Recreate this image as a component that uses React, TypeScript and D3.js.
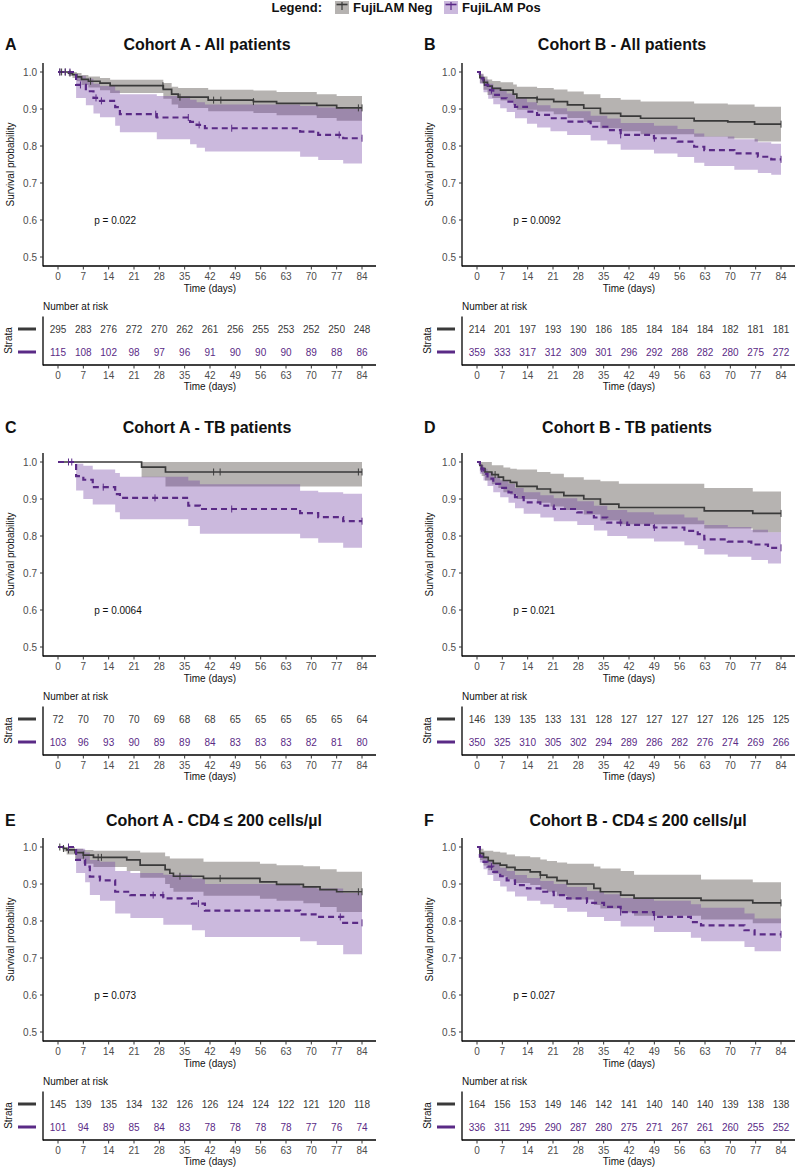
import React from "react";
import * as d3 from "d3";

type Step = [number, number, number, number]; // [day, survival, lower CI, upper CI]

const DAY_TICKS = [0, 7, 14, 21, 28, 35, 42, 49, 56, 63, 70, 77, 84];
const SURV_TICKS = [0.5, 0.6, 0.7, 0.8, 0.9, 1.0];
const GROUPS = ["FujiLAM Neg", "FujiLAM Pos"];
const PANEL_LETTERS = ["A", "B", "C", "D", "E", "F"];
const TITLES = [
  "Cohort A - All patients",
  "Cohort B - All patients",
  "Cohort A - TB patients",
  "Cohort B - TB patients",
  "Cohort A - CD4 \u2264 200 cells/\u00b5l",
  "Cohort B - CD4 \u2264 200 cells/\u00b5l",
];
const P_VALUES = ["0.022", "0.0092", "0.0064", "0.021", "0.073", "0.027"];

// ---------- Panel A ----------
const A_NEG: Step[] = [
  [0, 1, 1, 1], [2.9, 0.997, 0.99, 1], [4.0, 0.993, 0.984, 1], [5.2, 0.987, 0.975, 0.997],
  [6.5, 0.98, 0.965, 0.992], [8.4, 0.975, 0.958, 0.988], [11.6, 0.97, 0.951, 0.984],
  [14.4, 0.963, 0.943, 0.979], [29.1, 0.953, 0.928, 0.97], [31.4, 0.94, 0.912, 0.96],
  [33.2, 0.932, 0.903, 0.957], [41.5, 0.924, 0.894, 0.952], [54, 0.92, 0.889, 0.95],
  [60.4, 0.915, 0.883, 0.946], [71.5, 0.91, 0.876, 0.94], [77, 0.903, 0.868, 0.935],
];
const A_POS: Step[] = [
  [0, 1, 1, 1], [5.0, 0.965, 0.93, 0.99], [7.7, 0.948, 0.91, 0.982], [9.8, 0.93, 0.888, 0.968],
  [11.6, 0.922, 0.878, 0.962], [15.8, 0.905, 0.855, 0.95], [17.1, 0.886, 0.837, 0.94],
  [27.3, 0.877, 0.818, 0.935], [36.5, 0.865, 0.805, 0.925], [38.3, 0.857, 0.795, 0.918],
  [40.6, 0.848, 0.785, 0.912], [66.9, 0.839, 0.771, 0.908], [71.9, 0.83, 0.762, 0.904],
  [78.8, 0.821, 0.753, 0.9],
];
const A_NEG_CENSOR = [0.5, 1, 2, 3.3, 9, 29, 33.7, 43, 45, 54, 83, 84];
const A_POS_CENSOR = [0.5, 2, 3.3, 6.2, 10.5, 12, 27, 36, 39, 48, 77.7, 84];
const A_NEG_RISK = [295, 283, 276, 272, 270, 262, 261, 256, 255, 253, 252, 250, 248];
const A_POS_RISK = [115, 108, 102, 98, 97, 96, 91, 90, 90, 90, 89, 88, 86];

// ---------- Panel B ----------
const B_NEG: Step[] = [
  [0, 1, 1, 1], [0.8, 0.985, 0.97, 0.995], [1.8, 0.972, 0.952, 0.988], [2.9, 0.962, 0.938, 0.98],
  [4.2, 0.956, 0.93, 0.976], [6.5, 0.951, 0.923, 0.972], [10, 0.94, 0.91, 0.966],
  [11, 0.93, 0.898, 0.96], [16.6, 0.926, 0.893, 0.957], [21.2, 0.92, 0.886, 0.953],
  [25, 0.911, 0.876, 0.947], [29.5, 0.902, 0.865, 0.94], [34.1, 0.888, 0.848, 0.93],
  [39.7, 0.881, 0.84, 0.925], [45.2, 0.875, 0.832, 0.92], [60, 0.868, 0.825, 0.915],
  [69.3, 0.865, 0.82, 0.912], [76.7, 0.859, 0.812, 0.906],
];
const B_POS: Step[] = [
  [0, 1, 1, 1], [0.8, 0.983, 0.968, 0.993], [1.8, 0.965, 0.945, 0.98], [3.1, 0.951, 0.928, 0.968],
  [4.5, 0.938, 0.913, 0.958], [6.4, 0.929, 0.902, 0.95], [8.2, 0.92, 0.892, 0.942],
  [10.5, 0.906, 0.875, 0.93], [13.8, 0.893, 0.86, 0.918], [16.6, 0.884, 0.85, 0.91],
  [20.3, 0.875, 0.84, 0.902], [24.9, 0.866, 0.83, 0.894], [31.4, 0.852, 0.815, 0.882],
  [36, 0.843, 0.805, 0.874], [39.7, 0.83, 0.79, 0.862], [48.9, 0.821, 0.78, 0.855],
  [55.4, 0.812, 0.77, 0.846], [60, 0.798, 0.755, 0.834], [62.8, 0.789, 0.746, 0.826],
  [71.1, 0.78, 0.736, 0.818], [77.6, 0.771, 0.727, 0.81], [81.3, 0.764, 0.722, 0.806],
];
const B_NEG_CENSOR = [2, 16.6, 84];
const B_POS_CENSOR = [4, 39.7, 49, 84];
const B_NEG_RISK = [214, 201, 197, 193, 190, 186, 185, 184, 184, 184, 182, 181, 181];
const B_POS_RISK = [359, 333, 317, 312, 309, 301, 296, 292, 288, 282, 280, 275, 272];

// ---------- Panel C ----------
const C_NEG: Step[] = [
  [0, 1, 1, 1], [23.1, 0.986, 0.959, 1], [29.7, 0.973, 0.934, 1],
];
const C_POS: Step[] = [
  [0, 1, 1, 1], [5, 0.962, 0.923, 0.995], [7, 0.952, 0.9, 0.99], [9.6, 0.932, 0.885, 0.98],
  [15.8, 0.913, 0.864, 0.97], [17.1, 0.903, 0.845, 0.96], [36, 0.882, 0.827, 0.95],
  [39.2, 0.873, 0.806, 0.94], [66.9, 0.862, 0.794, 0.922], [71.9, 0.851, 0.782, 0.918],
  [78.8, 0.84, 0.768, 0.914],
];
const C_NEG_CENSOR = [43, 44.8, 83, 84];
const C_POS_CENSOR = [2.9, 3.8, 12.5, 26.8, 48, 84];
const C_NEG_RISK = [72, 70, 70, 70, 69, 68, 68, 65, 65, 65, 65, 65, 64];
const C_POS_RISK = [103, 96, 93, 90, 89, 89, 84, 83, 83, 83, 82, 81, 80];

// ---------- Panel D ----------
const D_NEG: Step[] = [
  [0, 1, 1, 1], [0.8, 0.991, 0.975, 1], [1.3, 0.982, 0.962, 1], [2.2, 0.973, 0.95, 1],
  [4.1, 0.966, 0.94, 0.991], [5.9, 0.959, 0.93, 0.991], [7.3, 0.95, 0.918, 0.985],
  [9.2, 0.945, 0.912, 0.982], [11, 0.934, 0.9, 0.98], [16.6, 0.927, 0.89, 0.973],
  [20.3, 0.918, 0.88, 0.968], [24, 0.909, 0.87, 0.959], [29.5, 0.9, 0.858, 0.952],
  [34.1, 0.886, 0.842, 0.948], [39.2, 0.877, 0.832, 0.941], [62.8, 0.868, 0.82, 0.93],
  [76.2, 0.861, 0.81, 0.92],
];
const D_POS: Step[] = [
  [0, 1, 1, 1], [0.8, 0.982, 0.968, 0.992], [1.8, 0.968, 0.95, 0.982], [2.9, 0.955, 0.935, 0.972],
  [4.5, 0.941, 0.918, 0.96], [6.4, 0.93, 0.905, 0.951], [8.7, 0.918, 0.89, 0.941],
  [10.5, 0.905, 0.875, 0.93], [12.9, 0.891, 0.86, 0.918], [17.5, 0.882, 0.85, 0.91],
  [21.2, 0.873, 0.84, 0.902], [27.7, 0.864, 0.83, 0.894], [32.3, 0.85, 0.815, 0.882],
  [36, 0.836, 0.8, 0.87], [41.5, 0.83, 0.793, 0.864], [48.9, 0.823, 0.785, 0.858],
  [57.3, 0.814, 0.775, 0.85], [61, 0.805, 0.765, 0.842], [62.8, 0.791, 0.75, 0.83],
  [69.3, 0.785, 0.744, 0.824], [75.8, 0.777, 0.735, 0.817], [80.4, 0.768, 0.726, 0.81],
];
const D_NEG_CENSOR = [5, 84];
const D_POS_CENSOR = [1.3, 39.7, 49, 84];
const D_NEG_RISK = [146, 139, 135, 133, 131, 128, 127, 127, 127, 127, 126, 125, 125];
const D_POS_RISK = [350, 325, 310, 305, 302, 294, 289, 286, 282, 276, 274, 269, 266];

// ---------- Panel E ----------
const E_NEG: Step[] = [
  [0, 1, 1, 1], [1.5, 0.996, 0.988, 1], [2.4, 0.992, 0.98, 1], [4.7, 0.985, 0.967, 0.995],
  [7, 0.978, 0.955, 0.992], [9.8, 0.972, 0.946, 0.99], [19, 0.965, 0.935, 0.99],
  [22.7, 0.951, 0.917, 0.985], [29.6, 0.939, 0.9, 0.975], [30.9, 0.929, 0.889, 0.969],
  [31.9, 0.921, 0.879, 0.969], [40.2, 0.915, 0.868, 0.96], [55.8, 0.906, 0.86, 0.955],
  [60.4, 0.899, 0.855, 0.951], [67.8, 0.892, 0.848, 0.948], [72.4, 0.885, 0.838, 0.94],
  [77, 0.879, 0.824, 0.933],
];
const E_POS: Step[] = [
  [0, 1, 1, 1], [5, 0.965, 0.93, 0.995], [7.5, 0.947, 0.905, 0.985], [8.8, 0.92, 0.87, 0.965],
  [11.6, 0.91, 0.855, 0.96], [15.8, 0.879, 0.82, 0.935], [20, 0.87, 0.808, 0.93],
  [29.1, 0.861, 0.79, 0.925], [37, 0.847, 0.775, 0.915], [40.6, 0.828, 0.757, 0.9],
  [66.9, 0.818, 0.745, 0.893], [71.5, 0.811, 0.735, 0.888], [78.8, 0.795, 0.71, 0.876],
];
const E_NEG_CENSOR = [0.5, 1.5, 2.9, 7, 11.1, 12, 33.7, 44.8, 83, 84];
const E_POS_CENSOR = [2.9, 26.3, 29, 38.8, 78, 84];
const E_NEG_RISK = [145, 139, 135, 134, 132, 126, 126, 124, 124, 122, 121, 120, 118];
const E_POS_RISK = [101, 94, 89, 85, 84, 83, 78, 78, 78, 78, 77, 76, 74];

// ---------- Panel F ----------
const F_NEG: Step[] = [
  [0, 1, 1, 1], [0.8, 0.983, 0.965, 0.995], [1.8, 0.972, 0.95, 0.99], [3.1, 0.963, 0.937, 0.99],
  [4.5, 0.956, 0.928, 0.987], [6.4, 0.951, 0.92, 0.985], [8.2, 0.945, 0.913, 0.98],
  [10.5, 0.938, 0.903, 0.975], [14.7, 0.933, 0.897, 0.972], [17.5, 0.924, 0.886, 0.966],
  [19.3, 0.918, 0.879, 0.962], [22.1, 0.909, 0.868, 0.958], [24.9, 0.9, 0.858, 0.955],
  [32.3, 0.888, 0.843, 0.947], [34.1, 0.879, 0.834, 0.942], [39.7, 0.87, 0.823, 0.935],
  [43.4, 0.862, 0.814, 0.925], [61.9, 0.856, 0.804, 0.912], [76.2, 0.849, 0.794, 0.905],
];
const F_POS: Step[] = [
  [0, 1, 1, 1], [0.8, 0.974, 0.958, 0.986], [1.8, 0.96, 0.94, 0.976], [2.9, 0.947, 0.924, 0.965],
  [4.5, 0.933, 0.908, 0.955], [6.4, 0.921, 0.893, 0.944], [8.2, 0.91, 0.88, 0.935],
  [10.5, 0.897, 0.866, 0.924], [13.8, 0.888, 0.855, 0.916], [17.5, 0.879, 0.845, 0.908],
  [21.2, 0.87, 0.835, 0.9], [24.9, 0.861, 0.825, 0.892], [30.4, 0.849, 0.811, 0.881],
  [35.1, 0.838, 0.8, 0.872], [39.7, 0.824, 0.785, 0.862], [48.9, 0.811, 0.77, 0.855],
  [59.1, 0.797, 0.755, 0.845], [61.9, 0.788, 0.745, 0.836], [73.9, 0.775, 0.73, 0.82],
  [76.7, 0.764, 0.718, 0.807],
];
const F_NEG_CENSOR = [17.5, 84];
const F_POS_CENSOR = [4, 39.7, 49, 84];
const F_NEG_RISK = [164, 156, 153, 149, 146, 142, 141, 140, 140, 140, 139, 138, 138];
const F_POS_RISK = [336, 311, 295, 290, 287, 280, 275, 271, 267, 261, 260, 255, 252];

const PANELS = [
  { neg: A_NEG, pos: A_POS, negC: A_NEG_CENSOR, posC: A_POS_CENSOR, negR: A_NEG_RISK, posR: A_POS_RISK },
  { neg: B_NEG, pos: B_POS, negC: B_NEG_CENSOR, posC: B_POS_CENSOR, negR: B_NEG_RISK, posR: B_POS_RISK },
  { neg: C_NEG, pos: C_POS, negC: C_NEG_CENSOR, posC: C_POS_CENSOR, negR: C_NEG_RISK, posR: C_POS_RISK },
  { neg: D_NEG, pos: D_POS, negC: D_NEG_CENSOR, posC: D_POS_CENSOR, negR: D_NEG_RISK, posR: D_POS_RISK },
  { neg: E_NEG, pos: E_POS, negC: E_NEG_CENSOR, posC: E_POS_CENSOR, negR: E_NEG_RISK, posR: E_POS_RISK },
  { neg: F_NEG, pos: F_POS, negC: F_NEG_CENSOR, posC: F_POS_CENSOR, negR: F_NEG_RISK, posR: F_POS_RISK },
];

// ---------- layout & style ----------
const FONT = "'Liberation Sans', Arial, Helvetica, sans-serif";
const NEG_LINE = "#3a3a3a";
const POS_LINE = "#5a2a86";
const NEG_FILL = "rgb(80,74,68)";
const POS_FILL = "rgb(110,62,160)";
const NEG_FILL_OP = 0.42;
const POS_FILL_OP = 0.36;
const TICK_COLOR = "#4d4d4d";
const COL_AXIS_X = [43, 462];
const ROW_Y = [0, 390, 775];
const TITLE_BASE = [50, 43, 51];
const TITLE_CX = [207, 622, 207, 627, 214, 638];
const MAX_DAY = 84;

function extend(steps: Step[]): Step[] {
  const last = steps[steps.length - 1];
  return [...steps, [MAX_DAY, last[1], last[2], last[3]]];
}

function valueAt(steps: Step[], t: number): number {
  let v = steps[0][1];
  for (const s of steps) if (s[0] <= t) v = s[1];
  return v;
}

function Panel({ idx }: { idx: number }) {
  const p = PANELS[idx];
  const col = idx % 2;
  const row = Math.floor(idx / 2);
  const ax = COL_AXIS_X[col];
  const oy = ROW_Y[row];
  const x = d3.scaleLinear().domain([0, 84]).range([ax + 15, ax + 319]);
  const y = d3.scaleLinear().domain([0.5, 1]).range([oy + 257, oy + 72]);
  const axisRight = ax + 333;

  const area = d3
    .area<Step>()
    .x((d) => x(d[0]))
    .y0((d) => y(d[2]))
    .y1((d) => y(d[3]))
    .curve(d3.curveStepAfter);
  const line = d3
    .line<Step>()
    .x((d) => x(d[0]))
    .y((d) => y(d[1]))
    .curve(d3.curveStepAfter);

  const neg = extend(p.neg);
  const pos = extend(p.pos);

  const tabAxisY = oy + 365;
  const rowYs = [oy + 329, oy + 352];

  return (
    <g>
      {/* letter + title */}
      <text x={col === 0 ? 5 : 424} y={oy + TITLE_BASE[row]} fontSize={16} fontWeight="bold" fill="#111">
        {PANEL_LETTERS[idx]}
      </text>
      <text x={TITLE_CX[idx]} y={oy + TITLE_BASE[row]} fontSize={16} fontWeight="bold" fill="#111" textAnchor="middle">
        {TITLES[idx]}
      </text>

      {/* ribbons */}
      <path d={area(neg) || ""} fill={NEG_FILL} fillOpacity={NEG_FILL_OP} />
      <path d={area(pos) || ""} fill={POS_FILL} fillOpacity={POS_FILL_OP} />

      {/* curves */}
      <path d={line(neg) || ""} fill="none" stroke={NEG_LINE} strokeWidth={1.7} />
      <path d={line(pos) || ""} fill="none" stroke={POS_LINE} strokeWidth={2.2} strokeDasharray="6 4" />

      {/* censor marks */}
      {p.negC.map((t, i) => (
        <line key={"nc" + i} x1={x(t)} x2={x(t)} y1={y(valueAt(p.neg, t)) - 3.5} y2={y(valueAt(p.neg, t)) + 3.5} stroke={NEG_LINE} strokeWidth={1} />
      ))}
      {p.posC.map((t, i) => (
        <line key={"pc" + i} x1={x(t)} x2={x(t)} y1={y(valueAt(p.pos, t)) - 3.5} y2={y(valueAt(p.pos, t)) + 3.5} stroke={POS_LINE} strokeWidth={1} />
      ))}

      {/* y axis */}
      <line x1={ax} x2={ax} y1={oy + 63} y2={oy + 266.6} stroke="#000" strokeWidth={1.3} />
      {SURV_TICKS.map((v) => (
        <g key={"yt" + v}>
          <line x1={ax - 3} x2={ax} y1={y(v)} y2={y(v)} stroke="#333" strokeWidth={1} />
          <text x={ax - 6} y={y(v) + 3.5} fontSize={10} fill={TICK_COLOR} textAnchor="end">
            {v.toFixed(1)}
          </text>
        </g>
      ))}
      <text
        transform={`translate(${ax - 33},${oy + 164.5}) rotate(-90)`}
        fontSize={10}
        fill="#111"
        textAnchor="middle"
        dy="0.35em"
      >
        Survival probability
      </text>

      {/* x axis */}
      <line x1={ax} x2={axisRight} y1={oy + 266} y2={oy + 266} stroke="#000" strokeWidth={1.3} />
      {DAY_TICKS.map((d) => (
        <g key={"xt" + d}>
          <line x1={x(d)} x2={x(d)} y1={oy + 266} y2={oy + 269.5} stroke="#333" strokeWidth={1} />
          <text x={x(d)} y={oy + 279.6} fontSize={10} fill={TICK_COLOR} textAnchor="middle">
            {d}
          </text>
        </g>
      ))}
      <text x={x(42)} y={oy + 291.6} fontSize={10} fill="#111" textAnchor="middle">
        Time (days)
      </text>

      {/* p value */}
      <text x={x(10)} y={y(0.6) + 3.6} fontSize={10} fill="#111">
        {"p = " + P_VALUES[idx]}
      </text>

      {/* risk table */}
      <text x={ax} y={oy + 309.6} fontSize={10} fill="#111">
        Number at risk
      </text>
      <line x1={ax} x2={ax} y1={oy + 316.5} y2={tabAxisY + 0.6} stroke="#000" strokeWidth={1.3} />
      <line x1={ax} x2={axisRight} y1={tabAxisY} y2={tabAxisY} stroke="#000" strokeWidth={1.3} />
      {DAY_TICKS.map((d, i) => (
        <g key={"rt" + d}>
          <text x={x(d)} y={rowYs[0] + 3.6} fontSize={10} fill={NEG_LINE} textAnchor="middle">
            {p.negR[i]}
          </text>
          <text x={x(d)} y={rowYs[1] + 3.6} fontSize={10} fill={POS_LINE} textAnchor="middle">
            {p.posR[i]}
          </text>
          <line x1={x(d)} x2={x(d)} y1={tabAxisY} y2={tabAxisY + 3.5} stroke="#333" strokeWidth={1} />
          <text x={x(d)} y={tabAxisY + 13.6} fontSize={10} fill={TICK_COLOR} textAnchor="middle">
            {d}
          </text>
        </g>
      ))}
      <text x={x(42)} y={tabAxisY + 24.6} fontSize={10} fill="#111" textAnchor="middle">
        Time (days)
      </text>
      <line x1={ax - 25} x2={ax - 7} y1={rowYs[0]} y2={rowYs[0]} stroke={NEG_LINE} strokeWidth={3} />
      <line x1={ax - 25} x2={ax - 7} y1={rowYs[1]} y2={rowYs[1]} stroke={POS_LINE} strokeWidth={3} />
      <text
        transform={`translate(${ax - 35},${oy + 340.5}) rotate(-90)`}
        fontSize={10}
        fill="#111"
        textAnchor="middle"
        dy="0.35em"
      >
        Strata
      </text>
    </g>
  );
}

function LegendKey({ kx, fill, op, stroke, label }: { kx: number; fill: string; op: number; stroke: string; label: string }) {
  return (
    <g>
      <rect x={kx} y={1} width={14} height={13} fill={fill} fillOpacity={op} />
      <line x1={kx + 1.5} x2={kx + 12.5} y1={4.5} y2={4.5} stroke={stroke} strokeWidth={1.6} />
      <line x1={kx + 7} x2={kx + 7} y1={2} y2={10} stroke={stroke} strokeWidth={1.2} />
      <text x={kx + 18} y={12} fontSize={13} fontWeight="bold" fill="#111">
        {label}
      </text>
    </g>
  );
}

export default function App() {
  return (
    <svg
      width={800}
      height={1170}
      viewBox="0 0 800 1170"
      style={{ position: "absolute", left: 0, top: 0, display: "block", background: "#fff" }}
      fontFamily={FONT}
    >
      <rect x={0} y={0} width={800} height={1170} fill="#fff" />
      <text x={322} y={12} fontSize={13} fontWeight="bold" fill="#111" textAnchor="end">
        Legend:
      </text>
      <LegendKey kx={335} fill={NEG_FILL} op={NEG_FILL_OP} stroke={NEG_LINE} label={GROUPS[0]} />
      <LegendKey kx={444} fill={POS_FILL} op={POS_FILL_OP} stroke={POS_LINE} label={GROUPS[1]} />
      {PANELS.map((_, i) => (
        <Panel key={i} idx={i} />
      ))}
    </svg>
  );
}
